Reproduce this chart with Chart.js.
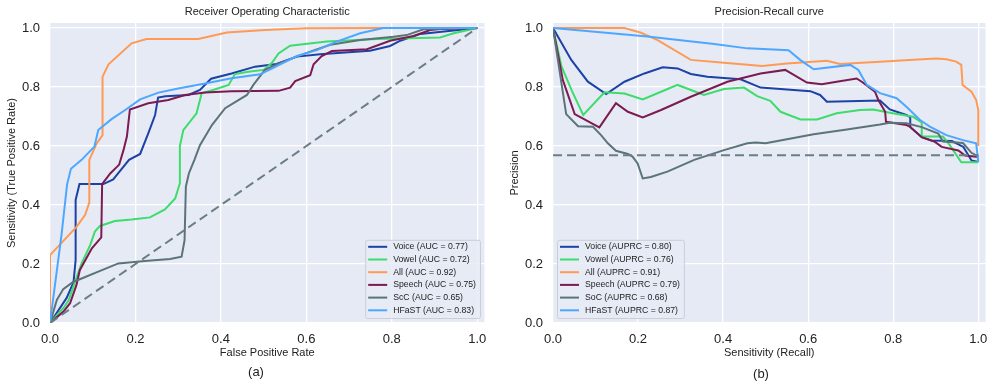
<!DOCTYPE html>
<html>
<head>
<meta charset="utf-8">
<script src="https://cdn.jsdelivr.net/npm/chart.js@4.4.1/dist/chart.umd.min.js"></script>
<style>
	body { margin: 0; background: #fff; }
	#wrap { position: relative; width: 996px; height: 383px; overflow: hidden; }
	.panel { position: absolute; top: 0; }
	.cap { position: absolute; width: 40px; text-align: center; font: 13px "Liberation Sans", Arial, sans-serif; line-height: 15px; color: #222; }
</style>
</head>
<body>
<div id="wrap">
	<div class="panel" style="left:0px"><canvas id="rocCanvas" width="498" height="383"></canvas></div>
	<div class="panel" style="left:500px"><canvas id="prCanvas" width="496" height="383"></canvas></div>
	<div class="cap" style="left:236px; top:364px">(a)</div>
	<div class="cap" style="left:741px; top:366px">(b)</div>
</div>
<script>
// tick positions shared by both axes of both panels
var tickValues = [0, 0.2, 0.4, 0.6, 0.8, 1.0];

var rocNames = ["Voice", "Vowel", "All", "Speech", "ScC", "HFaST"];
var rocAuc = [0.77, 0.72, 0.92, 0.75, 0.65, 0.83];
var prNames = ["Voice", "Vowel", "All", "Speech", "SoC", "HFaST"];
var prAuprc = [0.80, 0.76, 0.91, 0.79, 0.68, 0.87];
var colors = ["#1c42a6", "#3ddc6b", "#ff9a55", "#7c1a52", "#5b7379", "#4da7ff"];

// ROC curves, [false positive rate, true positive rate]
var rocVoice = [[0,0],[0.039,0.085],[0.055,0.138],[0.06,0.213],[0.06,0.417],[0.069,0.471],[0.125,0.471],[0.148,0.487],[0.166,0.519],[0.185,0.553],[0.211,0.573],[0.23,0.643],[0.246,0.705],[0.253,0.764],[0.27,0.769],[0.324,0.773],[0.351,0.79],[0.377,0.828],[0.425,0.846],[0.48,0.869],[0.53,0.878],[0.578,0.903],[0.632,0.911],[0.749,0.923],[0.796,0.939],[0.82,0.957],[0.867,0.98],[1,1]];
var rocVowel = [[0,0],[0.031,0.05],[0.044,0.078],[0.06,0.146],[0.074,0.202],[0.094,0.264],[0.105,0.31],[0.117,0.329],[0.152,0.346],[0.191,0.351],[0.234,0.358],[0.269,0.385],[0.293,0.422],[0.304,0.474],[0.304,0.6],[0.312,0.654],[0.343,0.711],[0.355,0.779],[0.382,0.79],[0.418,0.807],[0.433,0.844],[0.464,0.852],[0.5,0.858],[0.519,0.881],[0.535,0.914],[0.562,0.94],[0.648,0.954],[0.765,0.963],[0.913,0.968],[0.945,0.982],[1,1]];
var rocAll = [[0,0],[0,0.23],[0.062,0.326],[0.082,0.366],[0.092,0.408],[0.092,0.553],[0.109,0.608],[0.123,0.637],[0.123,0.835],[0.137,0.877],[0.191,0.948],[0.226,0.963],[0.347,0.963],[0.414,0.985],[0.503,0.993],[0.6,0.999],[0.78,1],[1,1]];
var rocSpeech = [[0,0],[0.031,0.038],[0.047,0.067],[0.062,0.129],[0.07,0.18],[0.098,0.253],[0.12,0.29],[0.122,0.471],[0.141,0.507],[0.162,0.537],[0.172,0.586],[0.18,0.632],[0.187,0.724],[0.23,0.745],[0.277,0.756],[0.316,0.773],[0.363,0.781],[0.425,0.786],[0.535,0.787],[0.562,0.798],[0.574,0.82],[0.609,0.84],[0.617,0.877],[0.636,0.905],[0.66,0.922],[0.742,0.928],[0.796,0.957],[0.851,0.973],[0.89,0.993],[0.914,0.997],[1,1]];
var rocScC = [[0,0],[0.016,0.078],[0.031,0.115],[0.055,0.14],[0.074,0.151],[0.113,0.174],[0.16,0.202],[0.222,0.21],[0.281,0.217],[0.308,0.225],[0.315,0.281],[0.318,0.462],[0.325,0.507],[0.338,0.553],[0.351,0.603],[0.379,0.671],[0.41,0.728],[0.461,0.773],[0.476,0.807],[0.503,0.858],[0.546,0.886],[0.609,0.92],[0.656,0.943],[0.726,0.959],[0.804,0.97],[0.835,0.976],[0.874,0.996],[1,1]];
var rocHFaST = [[0,0],[0.027,0.3],[0.04,0.47],[0.049,0.523],[0.074,0.553],[0.104,0.598],[0.113,0.654],[0.144,0.691],[0.176,0.722],[0.211,0.758],[0.254,0.781],[0.3,0.795],[0.363,0.812],[0.425,0.83],[0.492,0.843],[0.578,0.905],[0.625,0.925],[0.671,0.954],[0.726,0.982],[0.78,1],[1,1]];
var rocChance = [[0,0],[1,1]];

// precision-recall curves, [recall, precision]
var prVoice = [[0,1],[0.043,0.892],[0.082,0.818],[0.125,0.776],[0.168,0.818],[0.215,0.846],[0.258,0.867],[0.293,0.863],[0.324,0.844],[0.363,0.835],[0.441,0.826],[0.488,0.798],[0.605,0.786],[0.628,0.773],[0.644,0.75],[0.769,0.754],[0.792,0.724],[0.831,0.705],[0.84,0.698],[0.84,0.664],[0.867,0.63],[0.89,0.619],[0.938,0.617],[0.965,0.597],[0.984,0.551],[1,0.546]];
var prVowel = [[0,1],[0.02,0.87],[0.045,0.785],[0.071,0.705],[0.121,0.782],[0.168,0.778],[0.211,0.758],[0.254,0.784],[0.293,0.807],[0.355,0.773],[0.402,0.793],[0.449,0.798],[0.48,0.769],[0.511,0.753],[0.535,0.716],[0.582,0.69],[0.621,0.69],[0.667,0.711],[0.722,0.722],[0.753,0.724],[0.792,0.713],[0.847,0.699],[0.867,0.68],[0.867,0.632],[0.917,0.632],[0.933,0.603],[0.96,0.545],[1,0.545]];
var prAll = [[0,1],[0.168,1],[0.207,0.984],[0.246,0.959],[0.324,0.892],[0.402,0.882],[0.492,0.871],[0.55,0.88],[0.644,0.889],[0.675,0.878],[0.769,0.886],[0.847,0.892],[0.902,0.897],[0.925,0.894],[0.948,0.886],[0.96,0.875],[0.963,0.807],[0.984,0.784],[0.995,0.756],[1,0.722],[1,0.6]];
var prSpeech = [[0,1],[0.023,0.824],[0.051,0.708],[0.109,0.663],[0.148,0.745],[0.176,0.716],[0.211,0.697],[0.254,0.722],[0.324,0.767],[0.41,0.818],[0.488,0.846],[0.546,0.858],[0.597,0.815],[0.632,0.809],[0.667,0.818],[0.714,0.829],[0.726,0.818],[0.757,0.784],[0.765,0.756],[0.781,0.716],[0.783,0.682],[0.831,0.671],[0.839,0.666],[0.867,0.63],[0.898,0.614],[0.914,0.597],[0.953,0.585],[0.969,0.568],[1,0.563]];
var prSoC = [[0,1],[0.031,0.708],[0.059,0.667],[0.094,0.665],[0.113,0.637],[0.129,0.609],[0.148,0.584],[0.176,0.573],[0.187,0.564],[0.199,0.541],[0.211,0.49],[0.23,0.495],[0.269,0.513],[0.332,0.553],[0.402,0.586],[0.457,0.609],[0.476,0.612],[0.5,0.609],[0.55,0.623],[0.613,0.64],[0.691,0.656],[0.769,0.673],[0.792,0.679],[0.831,0.677],[0.867,0.664],[0.906,0.642],[0.917,0.615],[0.964,0.61],[0.984,0.577],[1,0.565]];
var prHFaST = [[0,1],[0.222,0.971],[0.379,0.946],[0.457,0.931],[0.554,0.925],[0.581,0.892],[0.613,0.86],[0.699,0.875],[0.718,0.858],[0.738,0.807],[0.769,0.779],[0.808,0.762],[0.831,0.733],[0.863,0.688],[0.886,0.666],[0.925,0.637],[0.964,0.62],[0.995,0.609],[1,0.547]];
var prBaseline = [[0,0.569],[1,0.569]];

var FONT = '"Liberation Sans", Arial, sans-serif';
Chart.defaults.font.family = FONT;
Chart.defaults.color = "#222";

function toPoints(arr) {
	return arr.map(function(p){ return {x: p[0], y: p[1]}; });
}

// grey-blue plot face
var plotFace = {
	id: 'plotFace',
	beforeDraw: function(chart) {
		var a = chart.chartArea;
		var ctx = chart.ctx;
		ctx.save();
		ctx.fillStyle = "#e5eaf5";
		ctx.fillRect(a.left, a.top, a.right - a.left, a.bottom - a.top);
		ctx.restore();
	}
};

// legend drawn inside the axes, like matplotlib's loc="lower right"/"lower left"
var innerLegend = {
	id: 'innerLegend',
	afterDatasetsDraw: function(chart, args, opts) {
		var ctx = chart.ctx;
		var a = chart.chartArea;
		var items = chart.data.datasets.filter(function(d){ return d.label; });
		ctx.save();
		ctx.font = '8.7px ' + FONT;
		var textW = 0;
		items.forEach(function(d){ textW = Math.max(textW, ctx.measureText(d.label).width); });
		var rowH = 12.7;
		var w = 3 + 19 + 6 + textW + 4;
		var h = items.length * rowH + 2;
		var x = opts.side === 'right' ? a.right - 4.5 - w : a.left + 4;
		var y = a.bottom - 5 - h;
		ctx.fillStyle = "rgba(230,235,246,0.85)";
		ctx.strokeStyle = "#c9ced8";
		ctx.lineWidth = 1;
		ctx.beginPath();
		ctx.roundRect(x + 0.5, y + 0.5, w, h, 2);
		ctx.fill();
		ctx.stroke();
		ctx.textBaseline = "middle";
		items.forEach(function(d, i){
			var cy = y + 7 + i * rowH;
			ctx.strokeStyle = d.borderColor;
			ctx.lineWidth = 2;
			ctx.beginPath();
			ctx.moveTo(x + 3, cy);
			ctx.lineTo(x + 22, cy);
			ctx.stroke();
			ctx.fillStyle = "#222";
			ctx.fillText(d.label, x + 28, cy);
		});
		ctx.restore();
	}
};

function makeScales(xTitle, yTitle, yTitlePad, yWidth) {
	var setTicks = function(scale){ scale.ticks = tickValues.map(function(v){ return {value: v}; }); };
	var fmt = function(v){ return Number(v).toFixed(1); };
	return {
		x: {
			type: 'linear', min: 0, max: 1.017,
			afterBuildTicks: setTicks,
			afterFit: function(scale){ scale.height = 40; },
			grid: { color: "#ffffff", lineWidth: 1.3, drawTicks: false },
			border: { display: false },
			ticks: { autoSkip: false, padding: 8.5, font: { size: 13 }, color: "#222", callback: fmt },
			title: { display: true, text: xTitle, font: { size: 11 }, color: "#222", padding: { top: 0, bottom: 3.1 } }
		},
		y: {
			type: 'linear', min: 0, max: 1.017,
			afterBuildTicks: setTicks,
			afterFit: function(scale){ scale.width = yWidth; },
			grid: { color: "#ffffff", lineWidth: 1.3, drawTicks: false },
			border: { display: false },
			ticks: { autoSkip: false, padding: 10, font: { size: 13 }, color: "#222", callback: fmt },
			title: { display: true, text: yTitle, font: { size: 11 }, color: "#222", padding: { top: yTitlePad, bottom: 0 } }
		}
	};
}

function makeDatasets(curves, names, scores, scoreName, refLine) {
	var sets = curves.map(function(c, i){
		return {
			label: names[i] + " (" + scoreName + " = " + scores[i].toFixed(2) + ")",
			data: toPoints(c),
			showLine: true,
			borderColor: colors[i],
			backgroundColor: colors[i],
			borderWidth: 2,
			pointRadius: 0,
			tension: 0,
			order: curves.length - i
		};
	});
	sets.push({
		label: "",
		data: toPoints(refLine),
		showLine: true,
		borderColor: "#6c7d84",
		borderWidth: 2,
		borderDash: [9, 5],
		pointRadius: 0,
		order: 0
	});
	return sets;
}

function makeChart(id, datasets, title, scales, padRight, side) {
	return new Chart(document.getElementById(id), {
		type: 'scatter',
		data: { datasets: datasets },
		options: {
			responsive: false,
			animation: false,
			layout: { padding: { left: 0, right: padRight, top: 0, bottom: 20 } },
			scales: scales,
			plugins: {
				legend: { display: false },
				tooltip: { enabled: false },
				title: { display: true, text: title, fullSize: false, color: "#222", font: { size: 11, weight: 'normal' }, padding: { top: 5.7, bottom: 4.1 } },
				innerLegend: { side: side }
			}
		},
		plugins: [plotFace, innerLegend]
	});
}

var rocChart = makeChart('rocCanvas',
	makeDatasets([rocVoice, rocVowel, rocAll, rocSpeech, rocScC, rocHFaST], rocNames, rocAuc, "AUC", rocChance),
	"Receiver Operating Characteristic",
	makeScales("False Positive Rate", "Sensitivity (True Positive Rate)", 5.1, 50),
	13.5, 'right');

var prChart = makeChart('prCanvas',
	makeDatasets([prVoice, prVowel, prAll, prSpeech, prSoC, prHFaST], prNames, prAuprc, "AUPRC", prBaseline),
	"Precision-Recall curve",
	makeScales("Sensitivity (Recall)", "Precision", 8.4, 53),
	9, 'left');
</script>
</body>
</html>
